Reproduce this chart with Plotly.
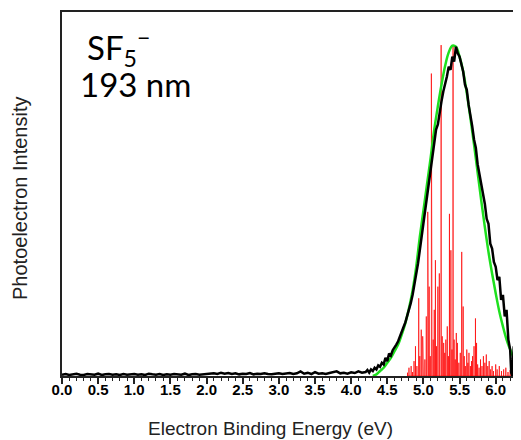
import plotly.graph_objects as go

# ---------------- data ----------------
# Experimental spectrum (black): energies (eV) and normalized intensity
exp_base_e = [round(0.05 * i, 2) for i in range(84)]  # 0.00 .. 4.15 grid positions
exp_base_v = [
    0.004, 0.006, 0.003, 0.005, 0.007, 0.004, 0.003, 0.006, 0.005, 0.004,
    0.007, 0.003, 0.005, 0.006, 0.004, 0.005, 0.003, 0.006, 0.004, 0.005,
    0.006, 0.004, 0.005, 0.003, 0.007, 0.005, 0.004, 0.006, 0.003, 0.005,
    0.004, 0.006, 0.005, 0.004, 0.007, 0.003, 0.005, 0.006, 0.004, 0.005,
    0.006, 0.005, 0.008, 0.006, 0.010, 0.007, 0.009, 0.006, 0.008, 0.005,
    0.007, 0.006, 0.009, 0.005, 0.007, 0.006, 0.008, 0.006, 0.005, 0.007,
    0.008, 0.006, 0.007, 0.009, 0.006, 0.008, 0.014, 0.007, 0.010, 0.006,
    0.012, 0.007, 0.008, 0.006, 0.009, 0.011, 0.014, 0.008, 0.010, 0.007,
    0.011, 0.009, 0.014, 0.010,
]
exp_peak_e = [
    4.20, 4.225, 4.25, 4.275, 4.30, 4.325, 4.35, 4.375, 4.40, 4.425,
    4.45, 4.475, 4.50, 4.525, 4.55, 4.575, 4.60, 4.625, 4.65, 4.675,
    4.70, 4.725, 4.75, 4.775, 4.80, 4.825, 4.85, 4.875, 4.90, 4.925,
    4.95, 4.975, 5.00, 5.025, 5.05, 5.075, 5.10, 5.125, 5.15, 5.175,
    5.20, 5.225, 5.25, 5.275, 5.30, 5.325, 5.35, 5.375, 5.40, 5.425,
    5.45, 5.475, 5.50, 5.525, 5.55, 5.575, 5.60, 5.625, 5.65, 5.675,
    5.70, 5.725, 5.75, 5.775, 5.80, 5.825, 5.85, 5.875, 5.90, 5.925,
    5.95, 5.975, 6.00, 6.025, 6.05, 6.075, 6.10, 6.125, 6.15, 6.175,
    6.20, 6.215, 6.23, 6.25, 6.27, 6.29, 6.31, 6.33, 6.35,
]
exp_peak_v = [
    0.012, 0.018, 0.010, 0.020, 0.015, 0.025, 0.020, 0.032, 0.028, 0.040,
    0.035, 0.055, 0.045, 0.068, 0.062, 0.078, 0.085, 0.095, 0.105, 0.118,
    0.130, 0.148, 0.162, 0.180, 0.198, 0.220, 0.245, 0.275, 0.305, 0.340,
    0.380, 0.420, 0.455, 0.495, 0.535, 0.575, 0.610, 0.660, 0.700, 0.745,
    0.760, 0.800, 0.830, 0.860, 0.880, 0.905, 0.935, 0.925, 0.965, 0.950,
    0.995, 0.975, 0.965, 0.940, 0.920, 0.880, 0.865, 0.820, 0.790, 0.755,
    0.715, 0.690, 0.640, 0.610, 0.580, 0.540, 0.520, 0.475, 0.460, 0.400,
    0.385, 0.345, 0.330, 0.290, 0.300, 0.230, 0.245, 0.180, 0.200, 0.110,
    0.080, 0.010, 0.000, 0.090, 0.020, 0.000, 0.270, 0.010, 0.000,
]

# Simulated envelope (green)
sim_e = [
    4.30, 4.35, 4.40, 4.45, 4.50, 4.55, 4.60, 4.65, 4.70, 4.75,
    4.80, 4.85, 4.90, 4.95, 5.00, 5.05, 5.10, 5.15, 5.20, 5.25,
    5.30, 5.35, 5.40, 5.45, 5.50, 5.55, 5.60, 5.65, 5.70, 5.75,
    5.80, 5.85, 5.90, 5.95, 6.00, 6.05, 6.10, 6.15, 6.20, 6.25,
    6.30, 6.35,
]
sim_v = [
    0.000, 0.005, 0.015, 0.025, 0.040, 0.055, 0.075, 0.095, 0.125, 0.160,
    0.205, 0.258, 0.330, 0.420, 0.500, 0.580, 0.660, 0.745, 0.815, 0.880,
    0.937, 0.978, 0.998, 0.995, 0.965, 0.920, 0.855, 0.780, 0.700, 0.615,
    0.530, 0.450, 0.375, 0.310, 0.250, 0.195, 0.150, 0.110, 0.080, 0.055,
    0.035, 0.022,
]

# Franck-Condon stick spectrum (red)
stick_e = [
    4.78, 4.80, 4.83, 4.85, 4.87, 4.89, 4.91, 4.935, 4.95, 4.97,
    4.99, 5.00, 5.02, 5.04, 5.06, 5.07, 5.08, 5.095, 5.11, 5.12,
    5.135, 5.15, 5.166, 5.18, 5.20, 5.22, 5.245, 5.26, 5.28, 5.295,
    5.31, 5.33, 5.345, 5.36, 5.38, 5.395, 5.41, 5.425, 5.44, 5.455,
    5.47, 5.49, 5.51, 5.53, 5.55, 5.565, 5.58, 5.60, 5.615, 5.63,
    5.65, 5.665, 5.68, 5.70, 5.72, 5.735, 5.75, 5.77, 5.79, 5.81,
    5.83, 5.85, 5.87, 5.89, 5.91, 5.93, 5.95, 5.97, 6.00, 6.02,
    6.05, 6.08, 6.11, 6.14, 6.17, 6.20, 6.23, 6.26, 6.29,
]
stick_h = [
    0.010, 0.025, 0.030, 0.012, 0.045, 0.090, 0.030, 0.235, 0.060, 0.140,
    0.120, 0.085, 0.050, 0.180, 0.496, 0.150, 0.270, 0.060, 0.914, 0.260,
    0.110, 0.200, 0.350, 0.090, 0.270, 0.310, 1.000, 0.120, 0.100, 0.070,
    0.110, 0.150, 0.060, 0.490, 0.380, 0.080, 1.000, 0.110, 0.050, 0.130,
    0.100, 0.040, 0.070, 0.375, 0.210, 0.060, 0.030, 0.080, 0.040, 0.070,
    0.030, 0.045, 0.060, 0.090, 0.174, 0.100, 0.035, 0.025, 0.050, 0.030,
    0.060, 0.040, 0.065, 0.030, 0.045, 0.020, 0.030, 0.015, 0.035, 0.020,
    0.030, 0.015, 0.020, 0.025, 0.012, 0.018, 0.010, 0.015, 0.008,
]

tick_vals = [0.0, 0.5, 1.0, 1.5, 2.0, 2.5, 3.0, 3.5, 4.0, 4.5, 5.0, 5.5, 6.0]
tick_text = ["0.0", "0.5", "1.0", "1.5", "2.0", "2.5", "3.0", "3.5", "4.0", "4.5", "5.0", "5.5", "6.0"]

# ---------------- figure ----------------
exp_e = exp_base_e + exp_peak_e
exp_v = exp_base_v + exp_peak_v

sx, sy = [], []
for e, h in zip(stick_e, stick_h):
    sx += [e, e, e]
    sy += [0, h, 0]

fig = go.Figure()
fig.add_trace(go.Scatter(x=sx, y=sy, mode="lines",
                         line=dict(color="rgba(255,0,0,0.7)", width=1),
                         hoverinfo="skip", showlegend=False))
fig.add_trace(go.Scatter(x=sim_e, y=sim_v, mode="lines",
                         line=dict(color="#1ee01e", width=2.5, shape="spline"),
                         showlegend=False))
fig.add_trace(go.Scatter(x=exp_e, y=exp_v, mode="lines",
                         line=dict(color="black", width=2.5),
                         showlegend=False))

# page has an 8px body margin; plot area spans page x 62..521, y 12..376
PW, PH = 459, 364

def px(x):
    return (x - 62) / PW

def py(y):
    return (376 - y) / PH

fig.update_layout(
    width=513, height=432,
    margin=dict(l=54, r=0, t=4, b=64),
    paper_bgcolor="white", plot_bgcolor="white",
    xaxis=dict(
        range=[0, 6.35], showgrid=False, zeroline=False,
        showline=True, linecolor="#222", linewidth=1.5, mirror=True,
        tickmode="array", tickvals=tick_vals, ticktext=tick_text,
        ticks="outside", ticklen=6, tickwidth=1.5, tickcolor="#222",
        ticklabelstandoff=-7,
        minor=dict(dtick=0.1, ticks="outside", ticklen=3, tickwidth=1, tickcolor="#222"),
        tickfont=dict(family="Liberation Sans, Arial", size=15, color="black", weight="bold"),
    ),
    yaxis=dict(
        range=[0, 1.1], showgrid=False, zeroline=False,
        showline=True, linecolor="#222", linewidth=1.5,
        showticklabels=False, ticks="",
    ),
    annotations=[
        dict(text="Electron Binding Energy (eV)", xref="paper", yref="paper",
             x=px(270), y=py(428), xanchor="center", yanchor="middle",
             showarrow=False, font=dict(family="Liberation Sans, Arial", size=19, color="#222")),
        dict(text="Photoelectron Intensity", xref="paper", yref="paper",
             x=px(20), y=py(199), xanchor="center", yanchor="middle",
             textangle=-90, showarrow=False,
             font=dict(family="Liberation Sans, Arial", size=20, color="#222")),
        dict(text="SF<sub>5</sub><sup>−</sup>", xref="paper", yref="paper",
             x=px(85), y=py(47), xanchor="left", yanchor="middle",
             showarrow=False, font=dict(family="Lato", size=33, color="black")),
        dict(text="193 nm", xref="paper", yref="paper",
             x=px(78), y=py(84), xanchor="left", yanchor="middle",
             showarrow=False, font=dict(family="Lato", size=33, color="black")),
    ],
)

fig.write_html("out.html")
